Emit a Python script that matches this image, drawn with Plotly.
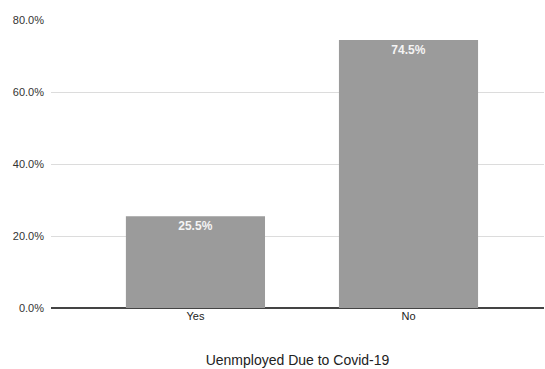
import plotly.graph_objects as go

categories = ["Yes", "No"]
values = [25.5, 74.5]
y_ticks = [0, 20, 40, 60, 80]
y_tick_labels = ["0.0%", "20.0%", "40.0%", "60.0%", "80.0%"]
x_title = "Uenmployed Due to Covid-19"

fig = go.Figure(
    go.Bar(
        x=categories,
        y=values,
        width=0.653,
        marker=dict(color="#9b9b9b", line=dict(width=0)),
        text=[f"<b>{v:.1f}%</b>" for v in values],
        textposition="inside",
        insidetextanchor="end",
        textfont=dict(color="#f4f4f4", size=12, family="Liberation Sans"),
        cliponaxis=False,
    )
)

fig.update_layout(
    width=545,
    height=369,
    margin=dict(l=51, r=1, t=20, b=61),
    paper_bgcolor="white",
    plot_bgcolor="white",
    showlegend=False,
    font=dict(family="Liberation Sans", color="#333333"),
    xaxis=dict(
        range=[-0.678, 1.636],
        showgrid=False,
        ticks="",
        tickfont=dict(size=11, color="#222222"),
        title=dict(text=x_title, font=dict(size=14, color="#222222"), standoff=34),
        showline=False,
        zeroline=False,
    ),
    yaxis=dict(
        range=[0, 80.05],
        tickvals=y_ticks,
        ticktext=y_tick_labels,
        tickfont=dict(size=11, color="#333333"),
        showgrid=True,
        gridcolor="#dcdcdc",
        gridwidth=1,
        zeroline=True,
        zerolinecolor="#444444",
        zerolinewidth=1.5,
        ticks="",
        ticklabelstandoff=6,
    ),
)

fig.write_html("out.html")
